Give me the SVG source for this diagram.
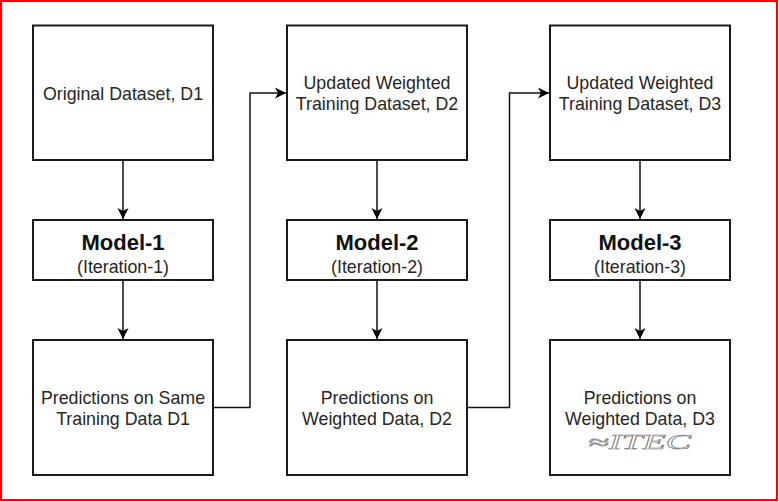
<svg xmlns="http://www.w3.org/2000/svg" width="779" height="502" viewBox="0 0 779 502">
<defs>
<marker id="arr" markerWidth="12" markerHeight="12" refX="11" refY="6" orient="auto" markerUnits="userSpaceOnUse">
<path d="M0,0.5 L11,6 L0,11.5 L3,6 Z" fill="#000"/>
</marker>
<style>
.box{fill:#fff;stroke:#1a1a1a;stroke-width:2}
.t{font-family:"Liberation Sans",Arial,sans-serif;font-size:17.8px;fill:#262626;text-anchor:middle}
.b{font-family:"Liberation Sans",Arial,sans-serif;font-size:22px;font-weight:bold;fill:#111;text-anchor:middle}
.c{fill:none;stroke:#111;stroke-width:1.5}
.wm{font-family:"Liberation Serif","Times New Roman",serif;font-style:italic;font-size:20px;fill:#fff;stroke:#777;stroke-width:0.6}
</style>
</defs>
<rect x="0" y="0" width="779" height="502" fill="#fff"/>
<rect x="1" y="1" width="776" height="499" fill="none" stroke="#f00" stroke-width="2"/>
<g id="connectors">
<path class="c" d="M123,160 V219" marker-end="url(#arr)"/>
<path class="c" d="M123,280 V339" marker-end="url(#arr)"/>
<path class="c" d="M377,160 V219" marker-end="url(#arr)"/>
<path class="c" d="M377,280 V339" marker-end="url(#arr)"/>
<path class="c" d="M640,160 V219" marker-end="url(#arr)"/>
<path class="c" d="M640,280 V339" marker-end="url(#arr)"/>
<path class="c" d="M213,407.5 H250 V93 H286" marker-end="url(#arr)"/>
<path class="c" d="M467,407.5 H509.5 V93 H549" marker-end="url(#arr)"/>
</g>
<g id="d1"><rect class="box" x="33" y="25.5" width="180" height="134.5"/><text class="t" x="123" y="100">Original Dataset, D1</text></g>
<g id="m1"><rect class="box" x="33" y="220" width="180" height="60"/><text class="b" x="123" y="249.5">Model-1</text><text class="t" x="123" y="272.5">(Iteration-1)</text></g>
<g id="p1"><rect class="box" x="33" y="340" width="180" height="135"/><text class="t" x="123" y="404">Predictions on Same</text><text class="t" x="123" y="425">Training Data D1</text></g>
<g id="d2"><rect class="box" x="287" y="25.5" width="180" height="134.5"/><text class="t" x="377" y="88.5">Updated Weighted</text><text class="t" x="377" y="109.5">Training Dataset, D2</text></g>
<g id="m2"><rect class="box" x="287" y="220" width="180" height="60"/><text class="b" x="377" y="249.5">Model-2</text><text class="t" x="377" y="272.5">(Iteration-2)</text></g>
<g id="p2"><rect class="box" x="287" y="340" width="180" height="135"/><text class="t" x="377" y="404">Predictions on</text><text class="t" x="377" y="425">Weighted Data, D2</text></g>
<g id="d3"><rect class="box" x="550" y="25.5" width="180" height="134.5"/><text class="t" x="640" y="88.5">Updated Weighted</text><text class="t" x="640" y="109.5">Training Dataset, D3</text></g>
<g id="m3"><rect class="box" x="550" y="220" width="180" height="60"/><text class="b" x="640" y="249.5">Model-3</text><text class="t" x="640" y="272.5">(Iteration-3)</text></g>
<g id="p3"><rect class="box" x="550" y="340" width="180" height="135"/><text class="t" x="640" y="404">Predictions on</text><text class="t" x="640" y="425">Weighted Data, D3</text></g>
<text class="wm" transform="translate(588,449) scale(1.9,1)" x="0" y="0">≈ITEC</text>
</svg>
